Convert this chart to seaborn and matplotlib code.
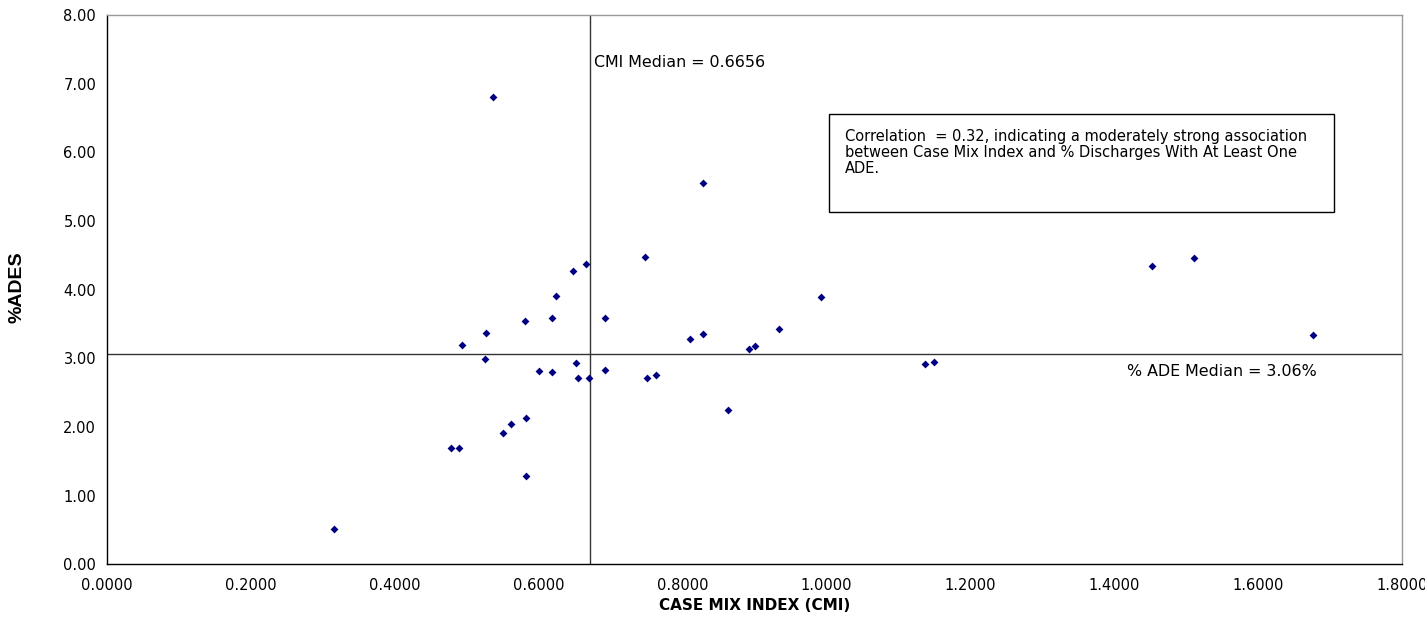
import matplotlib
matplotlib.use("Agg")
import matplotlib.pyplot as plt
import seaborn as sns
import pandas as pd
from matplotlib.patches import Rectangle

# ---- data ----
cmi = [0.3150, 0.4775, 0.4887, 0.4933, 0.5248, 0.5266, 0.5360, 0.5499, 0.5610,
       0.5813, 0.5827, 0.5827, 0.6004, 0.6180, 0.6180, 0.6240, 0.6476, 0.6522,
       0.6541, 0.6653, 0.6699, 0.6917, 0.6917, 0.7472, 0.7500, 0.7626, 0.8099,
       0.8289, 0.8289, 0.8632, 0.8928, 0.9011, 0.9345, 0.9925, 1.1376, 1.1500,
       1.4528, 1.5116, 1.6767]
ades = [0.52, 1.69, 1.69, 3.19, 2.99, 3.37, 6.80, 1.91, 2.05,
        3.55, 2.13, 1.29, 2.82, 3.58, 2.80, 3.91, 4.27, 2.93,
        2.71, 4.38, 2.72, 3.58, 2.83, 4.48, 2.72, 2.75, 3.28,
        5.56, 3.36, 2.25, 3.14, 3.18, 3.43, 3.90, 2.91, 2.94,
        4.35, 4.46, 3.34]
cmi_median_line = 0.671   # where the reference draws the CMI median line
ade_median_line = 3.06
x_ticks = [0.0, 0.2, 0.4, 0.6, 0.8, 1.0, 1.2, 1.4, 1.6, 1.8]
y_ticks = [0, 1, 2, 3, 4, 5, 6, 7, 8]
x_label = "CASE MIX INDEX (CMI)"
y_label = "%ADES"
cmi_text = "CMI Median = 0.6656"
ade_text = "% ADE Median = 3.06%"
note_text = ("Correlation  = 0.32, indicating a moderately strong association\n"
             "between Case Mix Index and % Discharges With At Least One\n"
             "ADE.")

df = pd.DataFrame({"cmi": cmi, "ades": ades})

sns.set_theme(style="white")
plt.rcParams["font.family"] = ["DejaVu Sans"]

W, H = 1425, 622
fig = plt.figure(figsize=(W / 100, H / 100), dpi=100)
ax = fig.add_axes([107.3 / W, 1 - 564.3 / H, (1401.7 - 107.3) / W, (564.3 - 15) / H])

sns.scatterplot(data=df, x="cmi", y="ades", marker="D", s=16, color="#000080",
                linewidth=0, ax=ax, zorder=3)

ax.set_xlim(0, 1.8)
ax.set_ylim(0, 8)
ax.set_xticks(x_ticks)
ax.set_xticklabels([f"{v:.4f}" for v in x_ticks], fontsize=10.5)
ax.set_yticks(y_ticks)
ax.set_yticklabels([f"{v:.2f}" for v in y_ticks], fontsize=10.5)
ax.tick_params(axis="both", direction="out", length=5, width=0.8, color="black",
               labelcolor="#000000")
ax.tick_params(axis="x", pad=5)
ax.tick_params(axis="y", pad=3)

for side in ["left", "bottom"]:
    ax.spines[side].set_color("black")
    ax.spines[side].set_linewidth(1.0)
for side in ["top", "right"]:
    ax.spines[side].set_color("#999999")
    ax.spines[side].set_linewidth(1.0)

ax.axvline(cmi_median_line, color="#333333", linewidth=1.0, zorder=2)
ax.axhline(ade_median_line, color="#333333", linewidth=1.0, zorder=2)

ax.set_xlabel("")
ax.set_ylabel("")
fig.text(755 / W, 1 - 605 / H, x_label, ha="center", va="center",
         fontsize=11, fontweight="bold", color="#000000")
fig.text(17 / W, 1 - 287 / H, y_label, ha="center", va="center", rotation=90,
         fontsize=14, fontweight="bold", color="#000000",
         family=["Liberation Sans Narrow", "Liberation Sans", "DejaVu Sans"])

fig.text(594 / W, 1 - 62.7 / H, cmi_text, ha="left", va="center",
         fontsize=11.4, color="#000000")
fig.text(1127 / W, 1 - 372 / H, ade_text, ha="left", va="center",
         fontsize=11.4, color="#000000")

# annotation box
fig.patches.append(Rectangle((829 / W, 1 - 212.3 / H), (1334.3 - 829) / W,
                             (212.3 - 114.3) / H, transform=fig.transFigure,
                             facecolor="white", edgecolor="black",
                             linewidth=1.0, zorder=5))
fig.text(845 / W, 1 - 129 / H, note_text, ha="left", va="top",
         fontsize=10.5, color="#000000", linespacing=1.1, zorder=6)

fig.savefig("out.png", dpi=100)
